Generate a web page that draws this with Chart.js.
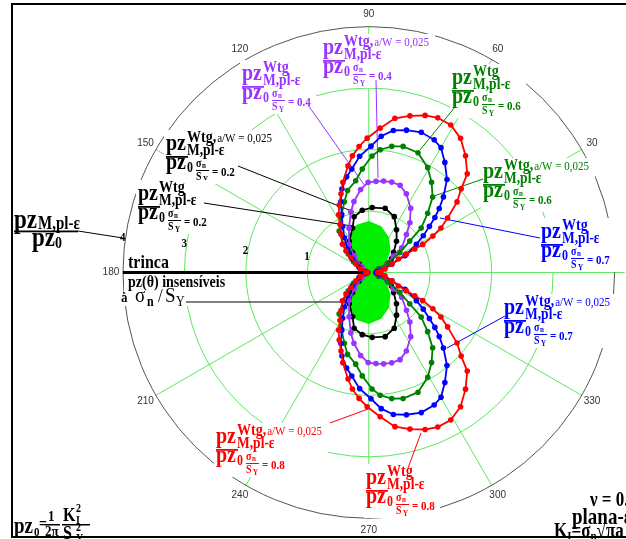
<!DOCTYPE html>
<html>
<head>
<meta charset="utf-8">
<script src="https://cdn.jsdelivr.net/npm/chart.js@4.4.0/dist/chart.umd.min.js"></script>
<style>
  body { margin: 0; background: #fff; }
  canvas { display: block; }
</style>
</head>
<body>
<canvas id="pzPolar" width="626" height="539"></canvas>
<script>
// angulos em graus (metade superior; a metade inferior e o espelho) e raios pz/pz0
const angPreto = [0, 10, 20, 23.4, 31, 39, 48.5, 57, 65.5, 75.7, 87, 96, 104.7, 110, 122, 129, 139, 160, 180];
const rPreto   = [0.12, 0.14, 0.17, 0.35, 0.43, 0.52, 0.68, 0.83, 1.0, 1.08, 1.06, 1.02, 0.94, 0.77, 0.60, 0.42, 0.21, 0.06, 0.02];

const angRoxo = [0, 8, 17, 26, 34, 37, 45.2, 50.4, 56.9, 64.5, 70.3, 75.8, 80.8, 85.5, 90.4, 95.6, 101.8, 106.5, 114, 125, 131, 141, 160, 180];
const rRoxo   = [0.12, 0.14, 0.2, 0.33, 0.48, 0.67, 0.87, 1.05, 1.25, 1.42, 1.51, 1.52, 1.51, 1.49, 1.47, 1.36, 1.18, 1.03, 0.79, 0.56, 0.36, 0.14, 0.05, 0.02];

const angVerde = [0, 10, 20, 27, 32.7, 37.5, 40.4, 45.2, 49.8, 55.2, 60.7, 67.7, 74.8, 79.7, 84.7, 88.4, 93.6, 98.1, 104.5, 109, 116, 125.5, 132, 138, 145, 155, 168, 180];
const rVerde   = [0.12, 0.15, 0.17, 0.36, 0.60, 0.84, 1.12, 1.36, 1.61, 1.79, 1.96, 2.11, 2.13, 2.09, 2.01, 1.90, 1.69, 1.51, 1.38, 1.22, 1.02, 0.83, 0.62, 0.45, 0.30, 0.16, 0.06, 0.02];

const angAzul = [0, 5, 10, 20, 24.9, 30.7, 34, 37.3, 39.8, 42.3, 45.4, 50, 55.4, 60, 63.8, 69.5, 75.2, 80.2, 84.8, 89, 94.5, 99.3, 103, 107.8, 111.5, 115, 119.6, 125, 132.5, 140.6, 152, 168, 180];
const rAzul   = [0.12, 0.15, 0.19, 0.40, 0.65, 0.90, 1.07, 1.24, 1.40, 1.55, 1.73, 1.98, 2.18, 2.35, 2.41, 2.44, 2.40, 2.35, 2.23, 2.06, 1.90, 1.71, 1.60, 1.43, 1.24, 1.04, 0.86, 0.69, 0.51, 0.35, 0.18, 0.06, 0.03];

const angVermelho = [0, 6, 12, 20, 24.5, 26, 27, 27.5, 29.6, 31.7, 34.7, 38.7, 42.2, 45.1, 50.4, 55.7, 61, 66, 70.3, 75.3, 80.4, 85.5, 90.7, 94.4, 98, 101, 106, 109.4, 113.6, 117.6, 121, 126, 133, 136.7, 140, 147, 156, 170, 180];
const rVermelho   = [0.15, 0.2, 0.27, 0.40, 0.53, 0.68, 0.84, 0.99, 1.20, 1.38, 1.56, 1.84, 2.03, 2.27, 2.47, 2.65, 2.75, 2.76, 2.72, 2.64, 2.55, 2.36, 2.19, 2.06, 1.92, 1.77, 1.53, 1.36, 1.20, 1.06, 0.91, 0.77, 0.63, 0.51, 0.38, 0.25, 0.15, 0.04, 0.02];

// pz(theta) insensivel (mancha verde)
const angInsens = [0, 15, 30, 45, 60, 75, 90, 105, 120, 135, 150, 165, 180];
const rInsens   = [0.16, 0.2, 0.33, 0.5, 0.66, 0.78, 0.84, 0.80, 0.64, 0.46, 0.28, 0.1, 0];

const aneis = [1, 2, 3];
const raioMax = 4;
const angulosGrade = [0, 30, 60, 90, 120, 150, 180, 210, 240, 270, 300, 330];

const corGrade = '#5ee85e';
const corRoxo = '#9933ff';
const corVerde = '#008000';
const corAzul = '#0000ff';
const corVermelho = '#ff0000';
const FONTE = 'Liberation Serif';

function laco(angs, rs) {
  const cima = angs.map((a, i) => ({ x: rs[i] * Math.cos(a * Math.PI / 180), y: rs[i] * Math.sin(a * Math.PI / 180) }));
  const baixo = cima.slice().reverse().map(p => ({ x: p.x, y: -p.y }));
  return cima.concat(baixo);
}

function txt(ctx, s, x, y, font, color, sy) {
  ctx.save();
  ctx.translate(x, y);
  ctx.scale(1, sy || 1.2);
  ctx.font = font;
  ctx.fillStyle = color;
  ctx.textBaseline = 'alphabetic';
  ctx.textAlign = 'left';
  ctx.fillText(s, 0, 0);
  const w = ctx.measureText(s).width;
  ctx.restore();
  return w;
}

function linha(ctx, x1, y1, x2, y2, cor, lw) {
  ctx.save();
  ctx.strokeStyle = cor;
  ctx.lineWidth = lw || 1;
  ctx.beginPath();
  ctx.moveTo(x1, y1);
  ctx.lineTo(x2, y2);
  ctx.stroke();
  ctx.restore();
}

// rotulo pz^Wtg_{M,pl-e} / pz0 |sn/SY = v
function rotuloPz(ctx, x0, B, cor, val, comAW) {
  ctx.fillStyle = '#fff';
  ctx.fillRect(x0 - 2, B - 20, comAW ? 114 : 76, 54);
  txt(ctx, 'pz', x0, B, `bold 20px ${FONTE}`, cor);
  let w = txt(ctx, comAW ? 'Wtg,' : 'Wtg', x0 + 21, B - 8, `bold 14px ${FONTE}`, cor);
  if (comAW) txt(ctx, 'a/W = 0,025', x0 + 22 + w, B - 8, `11px ${FONTE}`, cor);
  txt(ctx, 'M,pl-ε', x0 + 21, B + 5, `bold 13.5px ${FONTE}`, cor);
  ctx.fillStyle = cor;
  ctx.fillRect(x0, B + 6, 22, 1.8);
  txt(ctx, 'pz', x0, B + 19, `bold 20px ${FONTE}`, cor);
  txt(ctx, '0', x0 + 21, B + 22, `bold 12px ${FONTE}`, cor);
  txt(ctx, 'σ', x0 + 30, B + 17, `bold 10px ${FONTE}`, cor);
  txt(ctx, 'n', x0 + 36, B + 18, `bold 7px ${FONTE}`, cor);
  ctx.fillStyle = cor;
  ctx.fillRect(x0 + 30, B + 20, 13, 1);
  txt(ctx, 'S', x0 + 30, B + 30, `bold 10px ${FONTE}`, cor);
  txt(ctx, 'Y', x0 + 37, B + 32, `bold 7px ${FONTE}`, cor);
  txt(ctx, '= ' + val, x0 + 46, B + 26, `bold 11px ${FONTE}`, cor);
}

const fundoPolar = {
  id: 'fundoPolar',
  beforeDraw(chart) {
    const ctx = chart.ctx;
    ctx.save();
    ctx.fillStyle = '#fff';
    ctx.fillRect(0, 0, chart.width, chart.height);
    ctx.restore();
  },
  beforeDatasetsDraw(chart) {
    const { ctx, scales: { x, y } } = chart;
    const cx = x.getPixelForValue(0), cy = y.getPixelForValue(0);
    const u = x.getPixelForValue(1) - cx;
    const R = raioMax * u;

    ctx.save();
    ctx.strokeStyle = corGrade;
    ctx.lineWidth = 1;
    aneis.forEach(v => {
      ctx.beginPath();
      ctx.arc(cx, cy, v * u, 0, Math.PI * 2);
      ctx.stroke();
    });
    angulosGrade.forEach(a => {
      const t = a * Math.PI / 180;
      const lim = a === 0 ? R + 10 : R;
      ctx.beginPath();
      ctx.moveTo(cx, cy);
      ctx.lineTo(cx + lim * Math.cos(t), cy - lim * Math.sin(t));
      ctx.stroke();
    });
    ctx.strokeStyle = '#555';
    ctx.beginPath();
    ctx.arc(cx, cy, R, 0, Math.PI * 2);
    ctx.stroke();
    ctx.restore();

    // rotulos angulares
    ctx.save();
    ctx.font = '10px Liberation Sans';
    ctx.fillStyle = '#333';
    ctx.textAlign = 'center';
    ctx.textBaseline = 'middle';
    angulosGrade.forEach(a => {
      if (a === 0) return;
      const t = a * Math.PI / 180;
      ctx.fillText(String(a), cx + (R + 12) * Math.cos(t), cy - (R + 12) * Math.sin(t));
    });
    ctx.restore();

    // rotulos radiais
    [1, 2, 3, 4].forEach((v, i) => {
      txt(ctx, String(v), cx - v * u - 3, 260 - i * 6.3, `bold 11px ${FONTE}`, '#000', 1.1);
    });

    // linha da trinca
    ctx.save();
    ctx.fillStyle = '#fff';
    ctx.fillRect(124, 274, 104, 32);
    ctx.fillRect(126, 254, 44, 16);
    ctx.restore();
    linha(ctx, cx - R, cy, cx - 6, cy, '#000', 3);
    txt(ctx, 'trinca', 128, 268, `bold 16px ${FONTE}`, '#000');
    txt(ctx, 'pz(θ) insensíveis', 128, 287, `bold 14px ${FONTE}`, '#000');
    txt(ctx, 'à', 121, 302, `bold 13px ${FONTE}`, '#000');
    txt(ctx, 'σ', 135, 302, `19px ${FONTE}`, '#000', 1.1);
    txt(ctx, 'n', 147, 306, `bold 12px ${FONTE}`, '#000');
    txt(ctx, '/', 158, 302, `17px ${FONTE}`, '#000', 1.1);
    txt(ctx, 'S', 165, 302, `19px ${FONTE}`, '#000', 1.1);
    txt(ctx, 'Y', 176, 306, `12px ${FONTE}`, '#000');
    linha(ctx, 186, 302, cx, 302, '#000', 1);

    // titulo da escala
    ctx.fillStyle = '#fff';
    ctx.fillRect(12, 210, 72, 42);
    txt(ctx, 'pz', 14, 228, `bold 23px ${FONTE}`, '#000');
    txt(ctx, 'M,pl-ε', 38, 229, `bold 15px ${FONTE}`, '#000');
    ctx.fillStyle = '#000';
    ctx.fillRect(14, 230.5, 64, 1.8);
    txt(ctx, 'pz', 32, 246, `bold 23px ${FONTE}`, '#000');
    txt(ctx, '0', 55, 248, `bold 14px ${FONTE}`, '#000');
    linha(ctx, 78, 231, cx - R, 238, '#000', 1);

    // rotulos das curvas
    rotuloPz(ctx, 323, 54, corRoxo, '0.4', true);
    rotuloPz(ctx, 242, 80, corRoxo, '0.4', false);
    rotuloPz(ctx, 452, 84, corVerde, '0.6', false);
    rotuloPz(ctx, 483, 178, corVerde, '0.6', true);
    rotuloPz(ctx, 541, 238, corAzul, '0.7', false);
    rotuloPz(ctx, 504, 314, corAzul, '0.7', true);
    rotuloPz(ctx, 166, 150, '#000', '0.2', true);
    rotuloPz(ctx, 138, 200, '#000', '0.2', false);
    rotuloPz(ctx, 216, 443, corVermelho, '0.8', true);
    rotuloPz(ctx, 366, 484, corVermelho, '0.8', false);

    // linhas de chamada
    linha(ctx, 376, 80, 378, 178, corRoxo);
    linha(ctx, 308, 105, 365, 186, corRoxo);
    linha(ctx, 455, 107, 420, 150, corVerde);
    linha(ctx, 483, 179, 434, 196, corVerde);
    linha(ctx, 540, 238, 440, 218, corAzul);
    linha(ctx, 505, 316, 447, 348, corAzul);
    linha(ctx, 238, 166, 354, 212, '#000');
    linha(ctx, 204, 203, 352, 226, '#000');
    linha(ctx, 330, 423, 368, 409, corVermelho);
    linha(ctx, 408, 468, 421, 433, corVermelho);
  },
  afterDraw(chart) {
    const ctx = chart.ctx;
    // formula pz0
    txt(ctx, 'pz', 14, 533, `bold 19px ${FONTE}`, '#000');
    txt(ctx, '0', 34, 536, `bold 11px ${FONTE}`, '#000');
    txt(ctx, '=', 39, 529, `bold 14px ${FONTE}`, '#000');
    txt(ctx, '1', 48, 521, `bold 13px ${FONTE}`, '#000');
    ctx.fillStyle = '#000';
    ctx.fillRect(45, 524, 15, 1.5);
    txt(ctx, '2π', 45, 536, `bold 13px ${FONTE}`, '#000');
    txt(ctx, 'K', 63, 521, `bold 16px ${FONTE}`, '#000');
    txt(ctx, '2', 76, 512, `bold 10px ${FONTE}`, '#000');
    txt(ctx, 'I', 76, 524, `bold 10px ${FONTE}`, '#000');
    ctx.fillRect(62, 524, 28, 1.5);
    txt(ctx, 'S', 63, 539, `bold 16px ${FONTE}`, '#000');
    txt(ctx, '2', 76, 531, `bold 10px ${FONTE}`, '#000');
    txt(ctx, 'Y', 76, 542, `bold 10px ${FONTE}`, '#000');

    // canto direito
    txt(ctx, 'ν = 0.3', 590, 506, `bold 17px ${FONTE}`, '#000');
    txt(ctx, 'plana-ε', 572, 524, `bold 19px ${FONTE}`, '#000');
    let xk = 554;
    xk += txt(ctx, 'K', xk, 537, `bold 17px ${FONTE}`, '#000');
    xk += txt(ctx, 'I', xk, 540, `bold 11px ${FONTE}`, '#000');
    xk += txt(ctx, '=σ', xk, 537, `bold 17px ${FONTE}`, '#000');
    xk += txt(ctx, 'n', xk, 540, `bold 11px ${FONTE}`, '#000');
    txt(ctx, '√πa', xk, 537, `bold 17px ${FONTE}`, '#000');

    // moldura
    ctx.save();
    ctx.strokeStyle = '#000';
    ctx.lineWidth = 2;
    ctx.beginPath();
    ctx.moveTo(626, 4);
    ctx.lineTo(12, 4);
    ctx.lineTo(12, 537);
    ctx.lineTo(626, 537);
    ctx.stroke();
    ctx.restore();
  }
};

function serie(nome, angs, rs, cor, ordem) {
  return {
    label: nome,
    data: laco(angs, rs),
    showLine: true,
    borderColor: cor,
    backgroundColor: cor,
    borderWidth: 1.8,
    pointRadius: 2.8,
    pointBorderWidth: 0,
    tension: 0,
    order: ordem
  };
}

const px = 62.25;
new Chart(document.getElementById('pzPolar'), {
  type: 'scatter',
  data: {
    datasets: [
      serie('σn/SY = 0.8', angVermelho, rVermelho, corVermelho, 1),
      serie('σn/SY = 0.7', angAzul, rAzul, corAzul, 2),
      serie('σn/SY = 0.6', angVerde, rVerde, corVerde, 3),
      serie('σn/SY = 0.4', angRoxo, rRoxo, corRoxo, 4),
      serie('σn/SY = 0.2', angPreto, rPreto, '#000', 5),
      {
        label: 'pz(θ) insensíveis',
        data: laco(angInsens, rInsens),
        showLine: true,
        fill: 'shape',
        backgroundColor: '#00f000',
        borderColor: '#00f000',
        borderWidth: 0,
        pointRadius: 0,
        tension: 0,
        order: 10
      }
    ]
  },
  options: {
    responsive: false,
    animation: false,
    layout: { padding: 0 },
    plugins: { legend: { display: false }, tooltip: { enabled: false } },
    scales: {
      x: { type: 'linear', display: false, min: -369.5 / px, max: (626 - 369.5) / px },
      y: { type: 'linear', display: false, min: -(539 - 272.5) / px, max: 272.5 / px }
    }
  },
  plugins: [fundoPolar]
});
</script>
</body>
</html>
